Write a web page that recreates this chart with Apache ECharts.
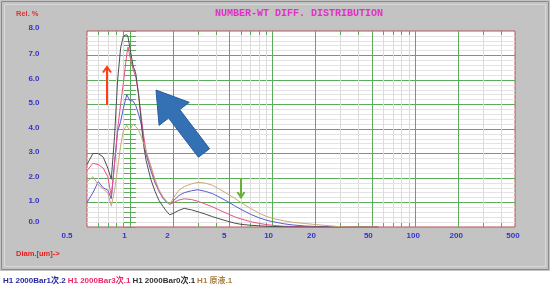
<!DOCTYPE html>
<html><head><meta charset="utf-8">
<script src="https://cdn.jsdelivr.net/npm/echarts@6/dist/echarts.min.js"></script>
<style>html,body{margin:0;padding:0;background:#fff}#c{width:553px;height:291px}</style>
</head><body><div id="c"></div>
<script>
// ---- data (diameter in um, relative %) ----
const sizes = [0.50,0.55,0.60,0.65,0.70,0.74,0.78,0.82,0.86,0.90,0.95,0.97,1.0,1.05,1.1,1.15,1.2,1.25,1.3,1.4,1.5,1.6,1.7,1.8,1.9,2.0,2.2,2.4,2.7,3.0,3.4,3.8,4.2,4.8,5.4,6.0,7.0,8.0,9.0,10,12,14,17,20,25,30,40,55];
const bar1 = [1.0,1.4,1.85,1.6,1.5,1.15,2.6,3.9,4.3,4.85,5.4,5.45,5.15,5.15,4.95,4.6,4.2,3.45,2.95,2.3,1.8,1.45,1.18,1.02,0.92,1.05,1.28,1.4,1.48,1.52,1.45,1.36,1.23,1.05,0.87,0.72,0.52,0.38,0.28,0.22,0.13,0.08,0.04,0.02,0.01,0,0,0];
const bar3 = [2.3,2.6,2.55,2.4,2.05,1.25,2.6,4.0,5.0,5.9,7.05,7.35,6.95,6.45,6.1,5.4,4.5,3.7,3.05,2.45,1.85,1.5,1.2,1.05,0.92,0.98,1.1,1.15,1.12,1.05,0.93,0.82,0.7,0.55,0.42,0.33,0.22,0.15,0.1,0.07,0.03,0.02,0.01,0,0,0,0,0];
const bar0 = [2.55,3.0,3.0,2.85,2.4,1.95,3.7,6.0,7.3,7.8,7.85,7.75,7.3,6.6,6.25,5.4,4.3,3.3,2.7,1.95,1.45,1.08,0.85,0.65,0.5,0.55,0.68,0.76,0.7,0.62,0.52,0.42,0.34,0.24,0.16,0.11,0.07,0.05,0.03,0.02,0.01,0,0,0,0,0,0,0];
const rawLiquid = [1.85,2.05,1.72,1.55,1.38,0.85,1.5,2.4,3.3,3.95,4.15,4.05,3.95,4.2,4.1,3.95,3.7,3.4,3.1,2.5,1.95,1.5,1.25,1.05,0.92,1.15,1.5,1.65,1.76,1.82,1.79,1.7,1.56,1.36,1.18,1.0,0.76,0.57,0.44,0.35,0.25,0.19,0.14,0.1,0.05,0.01,0,0];
const seriesNames = ['H1 2000Bar1次.2','H1 2000Bar3次.1','H1 2000Bar0次.1','H1 原液.1'];
const xLabelTicks = [0.5,1,2,5,10,20,50,100,200,500];
const xMajorGrid = [1,2,5,10,20,50,100,200];
const xMinorGrid = [0.6,0.7,0.8,0.9,3,4,6,7,8,9,30,40,60,70,80,90,300,400];
const yMin = 0, yMax = 8, yStep = 1;

// ---- styling ----
const lineColors = ['#5a5ad2','#e8508a','#4e4e4e','#c8a878'];
const legendColors = ['#2828a0','#e82868','#303030','#a88040'];
const green = '#5aac5a';
const lblColor = '#3434c4';
const FONT = 'Liberation Sans, Arial, Noto Sans CJK SC, sans-serif';
const L = v => Math.log10(v);
const xMin = L(0.5), xMax = L(500);
const base = {color: lblColor, fontSize: 8, fontWeight: 'bold', fontFamily: FONT};

const chart = echarts.init(document.getElementById('c'), null, {renderer: 'canvas'});

// big blue annotation arrow geometry
const tail = [204, 153], tip = [156, 90];
const dx = tip[0]-tail[0], dy = tip[1]-tail[1], len = Math.hypot(dx, dy);
const ux = dx/len, uy = dy/len, nx = -uy, ny = ux;
const hl = 30, hw = 19, sw = 7;
const bx = tip[0]-ux*hl, by = tip[1]-uy*hl;
const blueArrow = [
  [tail[0]+nx*sw, tail[1]+ny*sw], [bx+nx*sw, by+ny*sw], [bx+nx*hw, by+ny*hw], tip,
  [bx-nx*hw, by-ny*hw], [bx-nx*sw, by-ny*sw], [tail[0]-nx*sw, tail[1]-ny*sw]
];

const option = {
  animation: false,
  backgroundColor: '#c3c3c3',
  title: [
    {text: 'NUMBER-WT DIFF. DISTRIBUTION', left: 215, top: 8, padding: 0,
     textStyle: {fontFamily: 'Liberation Mono, DejaVu Sans Mono, monospace', fontSize: 10, fontWeight: 'bold', color: '#e030c8'}},
    {text: 'Rel. %', left: 16, top: 10, padding: 0,
     textStyle: {fontFamily: FONT, fontSize: 7.5, fontWeight: 'bold', color: '#e03030'}},
    {text: 'Diam.[um]->', left: 16, top: 250, padding: 0,
     textStyle: {fontFamily: FONT, fontSize: 7.5, fontWeight: 'bold', color: '#e02020'}}
  ],
  legend: {
    left: -2, top: 277, padding: 0, itemGap: -3, itemWidth: 0, itemHeight: 0, icon: 'none',
    selectedMode: false,
    textStyle: {fontSize: 8, fontWeight: 'bold', fontFamily: FONT},
    data: seriesNames.map((n, i) => ({name: n, textStyle: {color: legendColors[i]}}))
  },
  grid: {left: 87, top: 31, width: 428, height: 196, show: true, backgroundColor: '#ffffff',
         borderColor: '#b85454', borderWidth: 1},
  xAxis: [
    {type: 'log', logBase: 10, min: 0.5, max: 500, show: false},
    {type: 'value', min: xMin, max: xMax, position: 'bottom', z: 1,
     axisLine: {show: false},
     axisTick: {show: false, customValues: xMajorGrid.map(L)},
     splitLine: {show: true, lineStyle: {color: green, width: 1}},
     axisLabel: {
       customValues: xLabelTicks.map(L), margin: 5,
       formatter: v => {
         const d = Math.pow(10, v);
         const r = d < 1 ? Math.round(d*10)/10 : Math.round(d);
         const k = r === 0.5 ? 'a' : (r < 10 ? 'b' : (r < 100 ? 'c' : 'd'));
         return '{' + k + '|' + r + '}';
       },
       rich: {
         a: Object.assign({padding: [0,40,0,0]}, base),
         b: Object.assign({padding: [0,11,0,0]}, base),
         c: Object.assign({padding: [0,8,0,0]}, base),
         d: Object.assign({padding: [0,4,0,0]}, base)
       }
     }},
    {type: 'value', min: xMin, max: xMax, position: 'bottom',
     axisLine: {show: false},
     axisTick: {show: true, inside: true, length: 4, customValues: xMinorGrid.map(L), lineStyle: {color: green}},
     axisLabel: {show: false},
     splitLine: {show: true, lineStyle: {color: '#dcdcdc', width: 1}}},
    {type: 'value', min: xMin, max: xMax, position: 'top',
     axisLine: {show: false},
     axisTick: {show: true, inside: true, length: 4, customValues: xMinorGrid.map(L), lineStyle: {color: green}},
     axisLabel: {show: false},
     splitLine: {show: false}}
  ],
  yAxis: [
    {type: 'value', min: yMin, max: yMax, interval: yStep, position: 'left',
     axisLine: {show: false},
     axisTick: {show: true, inside: true, length: 6, lineStyle: {color: green}},
     minorTick: {show: true, splitNumber: 5, length: 6, lineStyle: {color: green}},
     splitLine: {show: true, showMinLine: false, showMaxLine: false, lineStyle: {color: green, width: 1}},
     minorSplitLine: {show: true, lineStyle: {color: '#e3e3e3', width: 1}},
     axisLabel: {
       margin: 47.5,
       formatter: v => {
         const k = v === 0 ? 'z' : (v === 8 ? 't' : 'n');
         return '{' + k + '|' + v.toFixed(1) + '}';
       },
       rich: {
         z: Object.assign({padding: [0,0,11,0]}, base),
         t: Object.assign({padding: [0,0,6,0]}, base),
         n: Object.assign({padding: [0,0,3,0]}, base)
       }
     }},
    {type: 'value', min: yMin, max: yMax, interval: yStep, position: 'right',
     axisLine: {show: false},
     axisTick: {show: true, inside: true, length: 6, lineStyle: {color: green}},
     minorTick: {show: true, splitNumber: 5, length: 6, lineStyle: {color: green}},
     splitLine: {show: false},
     axisLabel: {show: false}}
  ],
  series: [bar1, bar3, bar0, rawLiquid].map((arr, i) => ({
    name: seriesNames[i],
    type: 'line',
    xAxisIndex: 0, yAxisIndex: 0,
    showSymbol: false, symbol: 'none',
    lineStyle: {color: lineColors[i], width: 1},
    itemStyle: {color: lineColors[i]},
    data: sizes.map((s, j) => [s, arr[j]])
  })),
  graphic: [
    {type: 'rect', shape: {x: 0, y: 271, width: 553, height: 20}, style: {fill: '#ffffff'}, z: 0, silent: true},
    {type: 'rect', shape: {x: 550, y: 0, width: 3, height: 271}, style: {fill: '#ffffff'}, z: 0, silent: true},
    {type: 'rect', shape: {x: 1.5, y: 1.5, width: 547, height: 268}, style: {fill: 'none', stroke: '#8a8a8a', lineWidth: 1}, z: 0, silent: true},
    {type: 'rect', shape: {x: 4.5, y: 4.5, width: 541, height: 262}, style: {fill: 'none', stroke: '#d8d8d8', lineWidth: 1}, z: 0, silent: true},
    // red arrow
    {type: 'polyline', shape: {points: [[107, 105], [107, 68]]}, style: {stroke: '#ff3c14', lineWidth: 2, fill: null}, z: 100, silent: true},
    {type: 'polyline', shape: {points: [[103, 72.5], [107, 67], [111, 72.5]]}, style: {stroke: '#ff3c14', lineWidth: 2, fill: null}, z: 100, silent: true},
    // green arrow
    {type: 'polyline', shape: {points: [[241, 178], [241, 197]]}, style: {stroke: '#68b038', lineWidth: 2, fill: null}, z: 100, silent: true},
    {type: 'polyline', shape: {points: [[237.5, 192], [241, 197.5], [244.5, 192]]}, style: {stroke: '#68b038', lineWidth: 2, fill: null}, z: 100, silent: true},
    // blue arrow
    {type: 'polygon', shape: {points: blueArrow}, style: {fill: '#3370b4', stroke: '#2a5f9c', lineWidth: 1}, z: 100, silent: true}
  ]
};
chart.setOption(option);
</script></body></html>
